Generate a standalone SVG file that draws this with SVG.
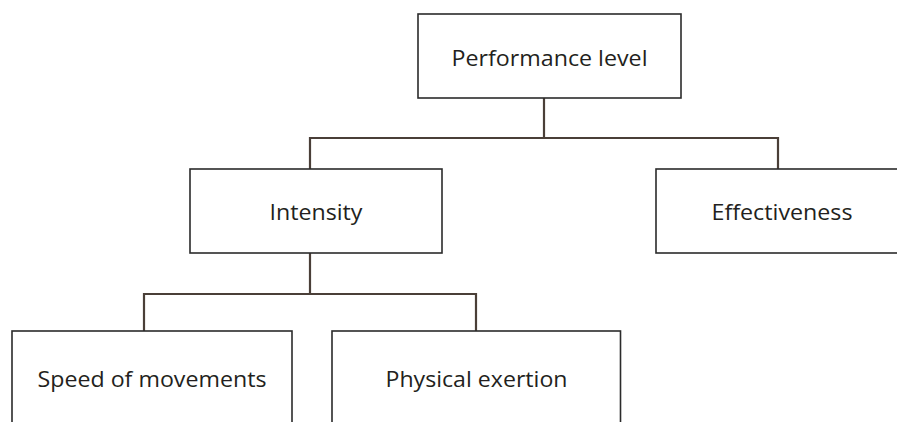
<svg xmlns="http://www.w3.org/2000/svg" width="897" height="422" viewBox="0 0 897 422">
<style>
.box{fill:#fff;stroke:#2b2b2b;stroke-width:1.6}
.lbl{font-family:"Open Sans","Liberation Sans",sans-serif;font-size:22px;fill:#231f20;text-anchor:middle}
.conn{fill:none;stroke:#4a3f38;stroke-width:2.2}
</style>
<rect width="897" height="422" fill="#fff"/>
<g id="connectors">
<path class="conn" d="M544,98 V138 M310,169 V138 H778 V169"/>
<path class="conn" d="M310,253 V294 M144,331 V294 H476 V331"/>
</g>
<g id="performance-level">
<rect class="box" x="418" y="14" width="263" height="84"/>
<text class="lbl" x="549.5" y="66" textLength="196" lengthAdjust="spacingAndGlyphs">Performance level</text>
</g>
<g id="intensity">
<rect class="box" x="190" y="169" width="252" height="84"/>
<text class="lbl" x="316" y="220" textLength="93" lengthAdjust="spacingAndGlyphs">Intensity</text>
</g>
<g id="effectiveness">
<rect class="box" x="656" y="169" width="260" height="84"/>
<text class="lbl" x="782" y="220" textLength="141" lengthAdjust="spacingAndGlyphs">Effectiveness</text>
</g>
<g id="speed-of-movements">
<rect class="box" x="12" y="331" width="280" height="110"/>
<text class="lbl" x="152" y="387" textLength="229" lengthAdjust="spacingAndGlyphs">Speed of movements</text>
</g>
<g id="physical-exertion">
<rect class="box" x="332" y="331" width="288.5" height="110"/>
<text class="lbl" x="476.5" y="387" textLength="182" lengthAdjust="spacingAndGlyphs">Physical exertion</text>
</g>
</svg>
